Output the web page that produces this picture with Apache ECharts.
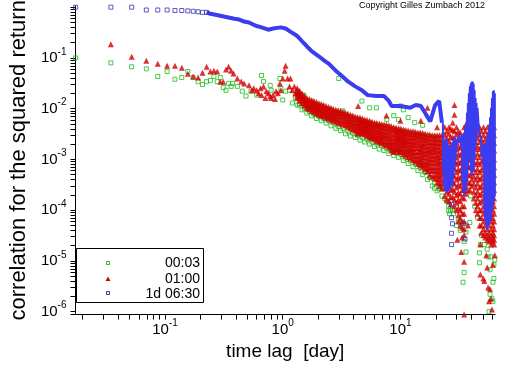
<!DOCTYPE html>
<html><head><meta charset="utf-8">
<script src="https://cdn.jsdelivr.net/npm/echarts@6/dist/echarts.min.js"></script>
<style>html,body{margin:0;padding:0;background:#fff}#c{width:512px;height:366px}</style>
</head><body><div id="c"></div>
<script>
// ---------- data (lag in days, correlation values) ----------
const seriesNames = ['00:03', '01:00', '1d 06:30'];
const xLabelValues = [0.1, 1, 10];
const yLabelValues = [1e-6, 1e-5, 1e-4, 1e-3, 1e-2, 1e-1];
const tickMantissas = [1, 2, 3, 4, 5, 6, 7, 8, 9];

const greenPoints = [
[0.0174,0.100],[0.0347,0.080],[0.0521,0.067],[0.0694,0.061],[0.0868,0.043],[0.1042,0.054],[0.1215,0.038],[0.1389,0.041],[0.1562,0.054],[0.1736,0.041],[0.1910,0.034],[0.2083,0.030],[0.2257,0.034],[0.2431,0.036],[0.2604,0.043],[0.2778,0.034],[0.2951,0.041],[0.3125,0.026],[0.3299,0.023],[0.3472,0.0315],[0.3646,0.0275],
[0.375,0.0315],[0.412,0.0275],[0.453,0.0221],[0.488,0.0177],[0.537,0.0221],[0.601,0.0185],[0.660,0.045],[0.686,0.0344],[0.783,0.0288],[0.797,0.0231],[0.945,0.0393],[0.963,0.0252],[1.0,0.0148],[1.058,0.0221],[1.141,0.0231],[1.208,0.0129],[1.278,0.0162],[1.378,0.0118],[1.514,0.0185],[1.664,0.0095],[1.828,0.0091],[2.008,0.0083],[2.206,0.0076],[2.425,0.0073],[2.664,0.0061],[2.93,0.0053],[3.22,0.0091],[2.99,0.0393],[3.75,0.0049],[4.12,0.0043],[4.70,0.0141],[4.70,0.0033],
[6.24,0.0104],[9.99,0.0113],[5.47,0.0104],[7.66,0.0061],[8.76,0.0073],[9.63,0.0061],[10.58,0.0095],[11.63,0.0067],[13.2,0.0053],[15.44,0.0047],
[5.47,0.0027],[6.60,0.0024],[7.97,0.0019],[9.3,0.00153],[12.78,0.00112],[14.3,0.0009],[16.1,0.00058],[17.9,0.00043],[19.5,0.00027],[22.93,0.00026],[23.8,0.00017],[25.66,0.000097],[26.65,0.000097],[26.15,0.000085],[27.67,0.000105],[29.83,0.00005],[33.4,0.000054],[36.0,0.000037],[34.7,0.000024],[36.0,0.000015],[34.7,0.0000059],[34.0,0.0000038],[38.8,0.000057],[46.85,0.0000144],[46.85,0.0000092],[61.0,0.0000038],[62.1,0.0000045],[59.8,0.0000018],[61.0,0.0000016],[56.5,0.000001],[55.5,0.000012],[57.6,0.0000067],[63.3,0.0000105],
[24.72,0.00015],[25.66,0.00012],[28.2,0.000085],[31.0,0.000062],[32.2,0.00004],[39.55,0.00019],[42.65,0.00012],[45.1,0.000071],[48.65,0.000032],[51.5,0.000021],[54.5,0.000017],[58.7,0.000012],[62.1,0.0000084],[57.6,0.0000022],[47.7,0.000021]
];
const greenBand = [
[1.327,[0.0215,0.0118]],[1.391,[0.0125]],[1.458,[0.0175,0.0095]],[1.528,[0.0102]],[1.603,[0.0145,0.0082]],[1.68,[0.0088]],[1.761,[0.0135,0.0072]],[1.846,[0.0078]],[1.935,[0.0118,0.0064]],[2.028,[0.0071]],[2.127,[0.0112,0.0058]],[2.229,[0.0064]],[2.337,[0.0100,0.0052]],[2.449,[0.0058]],[2.568,[0.0095,0.0046]],[2.691,[0.0052]],[2.822,[0.0088,0.0041]],[2.957,[0.0045]],[3.10,[0.0082,0.0037]],[3.249,[0.0041]],[3.41,[0.0076,0.0032]],[3.574,[0.0036]],[3.75,[0.0070,0.0029]],[3.93,[0.0033]],[4.12,[0.0064,0.0027]],[4.318,[0.0030]],[4.53,[0.0060,0.0024]],[4.747,[0.0027]],[4.97,[0.0056,0.0022]],[5.209,[0.0025]],[5.47,[0.0052,0.0020]],[5.732,[0.0022]],[6.01,[0.0050,0.0018]],[6.298,[0.0020]],[6.60,[0.0046,0.0016]],[6.917,[0.00185]],[7.25,[0.0045,0.0015]],[7.598,[0.00165]],[7.97,[0.0043,0.0013]],[8.353,[0.0015]],[8.76,[0.0040,0.0012]],[9.18,[0.00135]],[9.63,[0.0038,0.0011]],[10.09,[0.00122]],[10.58,[0.0036,0.00095]],[11.09,[0.00106]],[11.63,[0.0034,0.00083]],[12.19,[0.00093]],[12.78,[0.0033,0.00072]],[13.39,[0.0008]],[14.05,[0.0031,0.0006]],[14.72,[0.00067]],[15.44,[0.0030,0.0005]],[16.18,[0.00056]],[16.96,[0.0029,0.0004]],[17.77,[0.00044]],[18.64,[0.0028,0.0003]],[19.53,[0.00034]],[20.48,[0.0027,0.00024]],[21.46,[0.00026]],[22.5,[0.0026,0.00019]]
];

const redPoints = [
[0.0347,0.186],[0.0521,0.105],[0.0694,0.0875],[0.0868,0.0766],[0.1042,0.070],[0.1215,0.070],[0.1389,0.064],[0.1562,0.049],[0.1736,0.043],[0.1910,0.041],[0.2083,0.051],[0.2257,0.067],[0.2431,0.054],[0.2604,0.056],[0.2778,0.054],[0.2951,0.034],[0.3125,0.034],[0.3299,0.059],[0.3472,0.067],[0.3646,0.056],
[0.382,0.0491],[0.412,0.0393],[0.444,0.0344],[0.470,0.0315],[0.517,0.0288],[0.547,0.0231],[0.568,0.0252],[0.601,0.0231],[0.624,0.0202],[0.648,0.0252],[0.660,0.0185],[0.686,0.0275],[0.712,0.0162],[0.726,0.0221],[0.754,0.0202],[0.783,0.0177],[0.797,0.0162],[0.828,0.0185],[0.860,0.0155],[0.876,0.0221],[0.910,0.0202],[0.945,0.0315],[0.963,0.0231],[1.0,0.0393],[1.038,0.0561],[1.058,0.070],[1.099,0.0393],[1.141,0.0275],[1.163,0.0393],[1.208,0.0231],[1.254,0.0275],[1.278,0.0202],
[4.37,0.0113],[16.96,0.0104],[28.73,0.0118],[28.73,0.0076],[14.9,0.0058],[20.48,0.0043],[36.0,0.0049],[41.07,0.0047],[9.99,0.0058],[7.6,0.0073],
[30.4,0.000026],[32.8,0.000015],[33.4,0.000029],[34.7,0.0000096],[34.7,0.00000088],[47.7,0.000021],[47.7,0.0000054],[51.5,0.000004],[53.5,0.000013],[54.5,0.0000074],[55.5,0.000003],[57.6,0.0000028],[56.5,0.0000016],[59.8,0.0000011],[61.0,0.0000084],[63.3,0.000013],[37.4,0.00005],[50.5,0.0000045],[58.7,0.0000018]
];
const redBand = [
[1.327,[0.0252,0.0226,0.0202,0.018,0.0162]],[1.391,[0.0226,0.0202,0.018,0.016,0.0145]],[1.458,[0.0202,0.018,0.0162,0.0145,0.0129]],[1.528,[0.018,0.016,0.0145,0.013,0.0116]],[1.603,[0.0162,0.0145,0.0129,0.0116,0.0104]],[1.680,[0.0155,0.0138,0.0124,0.011,0.0098]],[1.761,[0.0148,0.0132,0.0118,0.0104,0.0091]],[1.846,[0.0141,0.0125,0.0111,0.0097,0.0085]],[1.935,[0.0135,0.0118,0.0104,0.0091,0.0080]],[2.028,[0.0128,0.0113,0.0099,0.0087,0.0076]],[2.127,[0.0124,0.0108,0.0095,0.0083,0.0073]],[2.229,[0.0118,0.0104,0.0091,0.008,0.0070]],[2.337,[0.0113,0.0099,0.0087,0.0076,0.0067]],[2.449,[0.0108,0.0095,0.0083,0.0073,0.0064]],[2.568,[0.0104,0.0091,0.0080,0.007,0.0061]],[2.691,[0.0099,0.0087,0.0076,0.0066,0.0058]],[2.822,[0.0095,0.0083,0.0073,0.0064,0.0056]],[2.957,[0.0093,0.0081,0.0071,0.0062,0.0053]],[3.10,[0.0091,0.0080,0.0070,0.006,0.0051]],[3.249,[0.0087,0.0076,0.0067,0.0057,0.0049]],[3.41,[0.0083,0.0073,0.0064,0.0055,0.0047]],[3.574,[0.0080,0.0069,0.0060,0.0051,0.0044]],[3.75,[0.0076,0.0065,0.0056,0.0048,0.0041]],[3.930,[0.0073,0.0063,0.0054,0.0046,0.0039]],[4.12,[0.0070,0.006,0.0051,0.0043,0.0037]],
[4.318,[0.0068,0.0059,0.0052,0.0046,0.0040,0.0036,0.0032]],[4.53,[0.0067,0.006,0.0053,0.0048,0.0043,0.0038,0.0034]],[4.747,[0.0064,0.0057,0.0051,0.0046,0.0041,0.0036,0.0032]],[4.97,[0.0061,0.0055,0.0049,0.0044,0.0039,0.0035,0.0031]],[5.209,[0.0060,0.0053,0.0047,0.0042,0.0037,0.0033,0.0029]],[5.47,[0.0058,0.0051,0.0045,0.004,0.0036,0.0031,0.0027]],[5.732,[0.0055,0.0049,0.0043,0.0038,0.0033,0.0029,0.0026]],[6.01,[0.0053,0.0047,0.0041,0.0036,0.0031,0.0028,0.0025]],[6.298,[0.0052,0.0046,0.0040,0.0035,0.0030,0.0026,0.0023]],[6.60,[0.0051,0.0045,0.0039,0.0034,0.0030,0.0026,0.0022]],[6.917,[0.0050,0.0043,0.0037,0.0032,0.0028,0.0024,0.0021]],[7.25,[0.0049,0.0042,0.0036,0.0031,0.0027,0.0023,0.0020]],[7.598,[0.0048,0.0041,0.0035,0.003,0.0026,0.0022,0.0019]],[7.97,[0.0047,0.004,0.0034,0.0029,0.0025,0.0021,0.00175]],
[8.353,[0.0045,0.0038,0.0032,0.0027,0.0023,0.002,0.0017,0.0015]],[8.76,[0.0043,0.0037,0.0031,0.0026,0.0022,0.0019,0.0016,0.0014]],[9.18,[0.0042,0.0038,0.0034,0.003,0.0026,0.0023,0.0020,0.0017,0.0015]],[9.63,[0.0041,0.0036,0.0031,0.0027,0.0024,0.0021,0.0018,0.0016,0.0014]],[10.09,[0.0040,0.0036,0.0032,0.0028,0.0025,0.0022,0.0019,0.0016,0.0014]],[10.58,[0.0039,0.0034,0.0030,0.0026,0.0023,0.002,0.00175,0.0015,0.00128]],[11.09,[0.0038,0.0033,0.0029,0.0025,0.0022,0.0019,0.0016,0.0014,0.0012]],[11.63,[0.0037,0.0032,0.0027,0.0023,0.0020,0.0017,0.00146,0.0013,0.00112]],[12.19,[0.0036,0.0031,0.0027,0.0023,0.0020,0.0017,0.0015,0.0013,0.00105]],[12.78,[0.0036,0.0031,0.0026,0.0022,0.0019,0.0016,0.0014,0.0012,0.00098]],
[13.39,[0.0035,0.0031,0.0027,0.0023,0.0020,0.0017,0.0014,0.0012,0.0010,0.0009]],[14.05,[0.0034,0.0029,0.0024,0.002,0.00167,0.0014,0.00117,0.001,0.00082]],[14.72,[0.0034,0.003,0.0026,0.0022,0.0019,0.0016,0.0014,0.0012,0.0010,0.00088,0.00077]],[15.44,[0.0033,0.0028,0.0024,0.002,0.00175,0.0015,0.00128,0.0011,0.00094,0.00082,0.00072]],[16.18,[0.0032,0.0028,0.0024,0.0021,0.0018,0.0015,0.0013,0.0011,0.0009,0.00077,0.00065]],[16.96,[0.0031,0.0026,0.0022,0.0018,0.00153,0.0013,0.00107,0.0009,0.00079,0.00068,0.00058]],[17.77,[0.0031,0.0026,0.0022,0.0019,0.0016,0.0014,0.0012,0.001,0.00085,0.0007,0.0006,0.0005]],[18.64,[0.0030,0.0025,0.0021,0.00175,0.00146,0.0012,0.00103,0.00086,0.00072,0.0006,0.00046]],[19.53,[0.0030,0.0026,0.0022,0.0019,0.0016,0.0014,0.0012,0.001,0.00085,0.0007,0.0006,0.0005,0.00042]],[20.48,[0.0030,0.0025,0.0021,0.00175,0.00146,0.0012,0.00103,0.00086,0.00072,0.0006,0.0005,0.00042,0.00035]],[21.46,[0.0030,0.0025,0.0021,0.0018,0.0015,0.0013,0.0011,0.00093,0.0008,0.00066,0.00055,0.00047,0.0004,0.00034,0.0003]],[22.5,[0.0030,0.0024,0.0020,0.0016,0.00134,0.0011,0.0009,0.00073,0.0006,0.0005,0.0004,0.00033,0.00027]],
[23.8,[0.0043,0.0031,0.0022,0.0016,0.00112,0.00079,0.00055,0.00037,0.00027,0.00019]],
[24.72,[0.0036,0.0026,0.0018,0.0013,0.0009,0.00066,0.00046,0.00031,0.00023,0.00016]],
[25.8,[0.0043,0.0032,0.0023,0.0017,0.0012,0.00085,0.0006,0.00042,0.0003,0.00021,0.00015]],
[26.65,[0.0040,0.0028,0.0020,0.0014,0.001,0.0007,0.0005,0.00035,0.00025,0.00018,0.00013]],
[27.8,[0.0053,0.0038,0.0027,0.0019,0.0014,0.001,0.0007,0.0005,0.00036,0.00026,0.00018]],
[28.73,[0.0036,0.0026,0.0018,0.0013,0.0009,0.00066,0.00046,0.00033,0.00023,0.00016,0.00012]],
[29.9,[0.0043,0.0031,0.0022,0.0016,0.0011,0.0008,0.00056,0.0004,0.00028,0.0002,0.00014,0.0001]],
[30.97,[0.0036,0.0025,0.0018,0.0013,0.0009,0.00064,0.00045,0.00032,0.00022,0.00016,0.00011,0.00008,0.00006]],
[32.2,[0.0034,0.0024,0.0017,0.0012,0.00085,0.0006,0.00042,0.0003,0.00021,0.00015,0.0001,0.00007,0.00005]],
[33.39,[0.0029,0.002,0.0014,0.001,0.0007,0.0005,0.00035,0.00025,0.00018,0.00012,0.000085,0.00006,0.000045]],
[34.7,[0.0043,0.0030,0.0021,0.0015,0.001,0.0007,0.0005,0.00035,0.00025,0.00017,0.00012,0.000085,0.00006,0.000042,0.000032]],
[36.0,[0.0036,0.0025,0.0018,0.0013,0.0009,0.00063,0.00044,0.0003,0.00021]],
[37.5,[0.0043,0.0030,0.0021,0.0015,0.001,0.0007,0.0005,0.00035,0.00024]],
[38.82,[0.0040,0.0028,0.0020,0.0014,0.001,0.0007,0.00048,0.00034,0.00025]],
[40.3,[0.0047,0.0033,0.0023,0.0016,0.0011,0.0008,0.00055,0.0004,0.0003]],
[41.85,[0.0036,0.0026,0.0018,0.0013,0.0009,0.00065,0.00046,0.00033,0.00023,0.00017]],
[43.6,[0.0043,0.0031,0.0022,0.0016,0.0011,0.0008,0.00056,0.0004,0.00028,0.0002,0.00014,0.0001]],
[45.12,[0.0036,0.0026,0.0018,0.0013,0.0009,0.00065,0.00046,0.00033,0.00023,0.00017,0.00012,0.000085]],
[47.0,[0.0043,0.0031,0.0022,0.0016,0.0011,0.0008,0.00056,0.0004,0.00028,0.0002,0.00014,0.0001,0.00007,0.00005]],
[48.65,[0.0036,0.0025,0.0018,0.0013,0.0009,0.00062,0.00043,0.0003,0.00021,0.00015,0.0001,0.00007,0.00005,0.000036]],
[50.7,[0.0043,0.0030,0.0021,0.0015,0.001,0.0007,0.0005,0.00035,0.00025,0.00017,0.00012,0.000085,0.00006,0.000042,0.000032]],
[52.45,[0.0036,0.0025,0.0018,0.0013,0.0009,0.00062,0.00043,0.0003,0.00021,0.00015,0.0001,0.00007,0.00005,0.000036,0.000029]],
[54.7,[0.0043,0.0030,0.0021,0.0015,0.001,0.0007,0.0005,0.00035,0.00025,0.00017,0.00012,0.000085,0.00006,0.000042,0.000032,0.000026]],
[56.55,[0.0036,0.0025,0.0018,0.0013,0.0009,0.00062,0.00043,0.0003,0.00021,0.00015,0.0001,0.00007,0.00005,0.000036,0.000029,0.000024]],
[59.0,[0.0043,0.0030,0.0021,0.0015,0.001,0.0007,0.0005,0.00035,0.00025,0.00017,0.00012,0.000085,0.00006,0.000042,0.000032,0.000026,0.000021]],
[60.97,[0.0036,0.0025,0.0018,0.0013,0.0009,0.00062,0.00043,0.0003,0.00021,0.00015,0.0001,0.00007,0.00005,0.000036,0.000029,0.000024]],
[62.4,[0.0043,0.0030,0.0021,0.0015,0.001,0.0007,0.0005,0.00035,0.00025,0.00017,0.00012,0.000085,0.00006,0.000042,0.000032,0.000026,0.000021]]
];

const bluePoints = [
[0.0174,1.0],[0.0347,1.0],[0.0521,1.0],[0.0694,0.88],[0.0868,0.88],[0.1042,0.88],[0.1215,0.86],[0.1389,0.86],[0.1562,0.845],[0.1736,0.83],[0.1910,0.81],[0.2083,0.79],[0.2257,0.79],
[27.15,0.000035],[27.15,0.000021],[27.15,0.000071],[27.67,0.000054],[27.15,0.00013],[34.67,0.000054],[35.33,0.000027]
];
const blueLine = [
[0.2257,0.79],[0.243,0.74],[0.268,0.71],[0.294,0.68],[0.322,0.65],[0.354,0.62],[0.389,0.59],[0.428,0.57],[0.470,0.52],[0.517,0.50],[0.590,0.43],[0.66,0.40],[0.754,0.36],[0.828,0.38],[0.963,0.40],[1.06,0.38],[1.16,0.33],[1.33,0.27],[1.46,0.213],[1.60,0.17],[1.76,0.136],[2.01,0.109],[2.27,0.0875],[2.47,0.0766],[2.82,0.056],[3.22,0.043],[3.60,0.034],[4.12,0.0275],[4.70,0.0231],[5.27,0.0185],[6.24,0.0177],[7.25,0.0177],[7.97,0.0142],[8.4,0.0113],[9.99,0.0113],[12.1,0.0104],[13.5,0.0118],[14.9,0.0113],[16.3,0.0080],[17.9,0.0056],[19.7,0.0118],[21.3,0.0142],[22.5,0.0053]
];
// oscillating tail: [lag, upper value, lower value]
const blueTail = [
[22.93,0.0053,0.00058],[23.36,0.0020,0.0003],[23.80,0.0022,0.00024],[24.26,0.0027,0.00026],[24.72,0.0025,0.00022],[25.19,0.0022,0.0003],[25.66,0.0019,0.00024],[26.15,0.00175,0.00032],[26.65,0.00175,0.00026],[27.15,0.0019,0.00037],[27.67,0.0022,0.0003],[28.19,0.0025,0.00046],[28.73,0.0027,0.00058],[29.27,0.0027,0.0009],[29.83,0.0022,0.00175],[30.4,0.0019,null],[30.97,0.0027,null],[31.56,0.0031,null],[32.16,0.0031,null],[32.77,0.0030,0.00175],[33.39,0.0031,0.00037],[34.03,0.0031,0.00024],[34.67,0.0034,0.00019],[35.33,0.0043,0.0003],[36.0,0.0053,0.00024],[36.69,0.0083,0.00037],[37.38,0.0129,0.00072],[38.09,0.0202,0.00112],[38.82,0.0275,0.0009],[39.55,0.0315,0.00058],[40.3,0.0344,0.00046],[41.07,0.0344,0.00072],[41.85,0.0315,0.00058],[42.65,0.0231,0.00112],[43.46,0.0162,0.00175],[44.28,0.0129,0.0027],[45.12,0.0104,null],[45.98,0.0053,null],[46.85,0.0034,null],[47.74,0.0027,null],[48.65,0.0022,0.00112],[49.57,0.0020,null],[50.51,0.0020,0.00072],[51.47,0.0020,0.000097],[52.45,0.0020,0.000062],[53.45,0.0022,0.00005],[54.46,0.0027,0.00004],[55.5,0.0034,0.000062],[56.55,0.0049,0.00005],[57.63,0.0067,0.000078],[58.72,0.0104,0.000062],[59.84,0.0162,0.000097],[60.97,0.0221,0.00012],[62.13,0.0231,0.00015],[63.31,0.0202,0.00019]
];

// ---------- build ----------
const GREEN = '#1cbf1c', RED = '#d00000', BLUE_PT = '#3a32b4', BLUE_LN = '#3b3bef';
const FONT = 'Liberation Sans, Arial, sans-serif';
function flattenBand(band) { const out = []; band.forEach(c => c[1].forEach(v => out.push([c[0], v]))); return out; }
const greenData = greenPoints.concat(flattenBand(greenBand));
const redData = redPoints.concat(flattenBand(redBand));
const tailData = [];
blueTail.forEach(r => { tailData.push([r[0], r[1]]); if (r[2] !== null) tailData.push([r[0], r[2]]); });

function decadeTicks(lo, hi) {
  const t = [];
  for (let e = -8; e <= 2; e++) tickMantissas.forEach(m => { const v = m * Math.pow(10, e); if (v >= lo && v <= hi) t.push(v); });
  return t;
}
const X_MIN = 0.017361, X_MAX = 63.5, Y_MIN = 8.75e-7, Y_MAX = 1.055;

function powLabel(v) { return '{b|10}{s|' + Math.round(Math.log10(v)) + '}'; }
const rich = {
  b: { fontSize: 15, fontFamily: FONT, color: '#000', lineHeight: 22 },
  s: { fontSize: 10, fontFamily: FONT, color: '#000', verticalAlign: 'top', lineHeight: 12 }
};

const chart = echarts.init(document.getElementById('c'), null, { renderer: 'canvas' });
chart.setOption({
  animation: false,
  backgroundColor: '#fff',
  grid: { left: 60, right: 17, top: 6, bottom: 45, containLabel: false },
  xAxis: {
    type: 'log', logBase: 10, min: X_MIN, max: X_MAX,
    axisLine: { onZero: false, lineStyle: { color: '#000', width: 1 } },
    axisTick: { show: true, inside: false, length: 5, customValues: decadeTicks(X_MIN, X_MAX), lineStyle: { color: '#000' } },
    axisLabel: { customValues: xLabelValues, formatter: powLabel, rich: rich, margin: 4 },
    splitLine: { show: false },
    name: 'time lag  [day]', nameLocation: 'middle', nameGap: 19,
    nameTextStyle: { fontSize: 19, fontFamily: FONT, color: '#000' }
  },
  yAxis: {
    type: 'log', logBase: 10, min: Y_MIN, max: Y_MAX,
    axisLine: { onZero: false, lineStyle: { color: '#000', width: 1 } },
    axisTick: { show: true, inside: false, length: 5, customValues: decadeTicks(Y_MIN, Y_MAX), lineStyle: { color: '#000' } },
    axisLabel: { customValues: yLabelValues, formatter: powLabel, rich: rich, margin: 9 },
    splitLine: { show: false },
    name: 'correlation for the squared return', nameLocation: 'middle', nameGap: 43,
    nameTextStyle: { fontSize: 22, fontFamily: FONT, color: '#000' }
  },
  series: [
    { name: seriesNames[0], type: 'scatter', data: greenData, symbol: 'rect', symbolSize: 4, clip: false, progressive: 0, large: false,
      itemStyle: { color: 'rgba(255,255,255,0)', borderColor: GREEN, borderWidth: 1 }, z: 2 },
    { name: seriesNames[1], type: 'scatter', data: redData, symbol: 'triangle', symbolSize: 6, clip: false, progressive: 0, large: false,
      itemStyle: { color: RED }, z: 3 },
    { name: seriesNames[2], type: 'scatter', data: bluePoints, symbol: 'rect', symbolSize: 4, clip: false, progressive: 0,
      itemStyle: { color: 'rgba(255,255,255,0)', borderColor: BLUE_PT, borderWidth: 1 }, z: 4 },
    { name: seriesNames[2], type: 'line', data: blueLine, showSymbol: false, symbol: 'none', lineStyle: { color: BLUE_LN, width: 4 }, z: 4 },
    { name: seriesNames[2], type: 'line', data: tailData, showSymbol: false, symbol: 'none', lineStyle: { color: BLUE_LN, width: 2 }, z: 4 }
  ],
  graphic: [
    { type: 'text', left: 359, top: 1, z: 50, style: { text: 'Copyright Gilles Zumbach 2012', fontSize: 9, fontFamily: FONT, fill: '#000' } },
    { type: 'rect', z: 50, shape: { x: 76.5, y: 248.5, width: 127, height: 54 }, style: { fill: '#fff', stroke: '#000', lineWidth: 1 } },
    { type: 'rect', z: 51, shape: { x: 106.5, y: 261.5, width: 3, height: 3 }, style: { fill: 'none', stroke: GREEN, lineWidth: 1 } },
    { type: 'polygon', z: 51, shape: { points: [[105.5, 281], [108, 276.5], [110.5, 281]] }, style: { fill: RED } },
    { type: 'rect', z: 51, shape: { x: 106.5, y: 291.5, width: 3, height: 3 }, style: { fill: 'none', stroke: BLUE_PT, lineWidth: 1 } },
    { type: 'text', z: 51, style: { text: seriesNames[0], x: 200, y: 263, align: 'right', textAlign: 'right', verticalAlign: 'middle', textVerticalAlign: 'middle', fontSize: 14, fontFamily: FONT, fill: '#000' } },
    { type: 'text', z: 51, style: { text: seriesNames[1], x: 200, y: 279.5, align: 'right', textAlign: 'right', verticalAlign: 'middle', textVerticalAlign: 'middle', fontSize: 14, fontFamily: FONT, fill: '#000' } },
    { type: 'text', z: 51, style: { text: seriesNames[2], x: 200, y: 294, align: 'right', textAlign: 'right', verticalAlign: 'middle', textVerticalAlign: 'middle', fontSize: 14, fontFamily: FONT, fill: '#000' } }
  ]
});
</script></body></html>
